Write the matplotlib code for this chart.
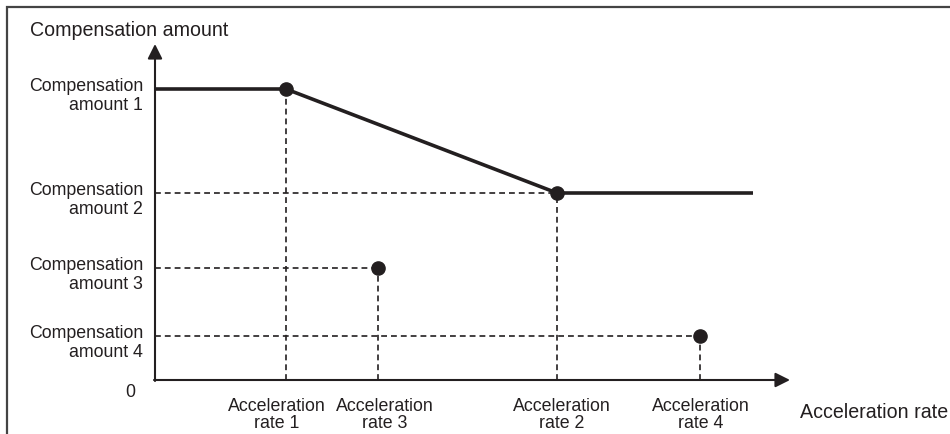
import matplotlib
matplotlib.use("Agg")
import matplotlib.pyplot as plt
from matplotlib.patches import Rectangle

plt.rcParams['font.family'] = ['Liberation Sans', 'DejaVu Sans']

# values (axis units ~ pixels from origin)
rate_labels = ['Acceleration\nrate 1', 'Acceleration\nrate 3', 'Acceleration\nrate 2', 'Acceleration\nrate 4']
rate_x = [131, 223, 402, 545]
amount_labels = ['Compensation\namount 1', 'Compensation\namount 2', 'Compensation\namount 3', 'Compensation\namount 4']
amount_y = [291, 187, 112, 44]

# characteristic curve: flat, falling, flat
curve_x = [0, 131, 402, 598]
curve_y = [291, 291, 187, 187]

# isolated points (rate 3 -> amount 3, rate 4 -> amount 4)
pts_x = [131, 402, 223, 545]
pts_y = [291, 187, 112, 44]

x_end, y_end = 635, 336
ink = '#231f20'
txt = '#231f20'

# tick labels are not exactly centred under their marks in the original
label_shift = [-9, 7, 5, 1]

fig = plt.figure(figsize=(9.5, 4.35), dpi=100)
ax = fig.add_axes([0, 0, 1, 1])
ax.set_xlim(-155, 795)
ax.set_ylim(-54, 381)
ax.axis('off')

# frame round the figure (right/bottom run off the picture)
ax.add_patch(Rectangle((-148, -80), 1200, 453, fill=False, lw=1.6,
                       edgecolor='#444444', clip_on=False))

# axes with arrow heads
ax.annotate('', xy=(x_end, 0), xytext=(-1, 0),
            arrowprops=dict(arrowstyle='-|>', lw=1.5, color=ink,
                            mutation_scale=22, shrinkA=0, shrinkB=0))
ax.annotate('', xy=(0, y_end), xytext=(0, -1),
            arrowprops=dict(arrowstyle='-|>', lw=1.5, color=ink,
                            mutation_scale=22, shrinkA=0, shrinkB=0))

# dashed guide lines
dash = dict(color=ink, lw=1.2, ls=(0, (3.5, 2.4)))
for px, py in zip(pts_x, pts_y):
    ax.plot([px, px], [0, py], **dash)
for px, py in zip(pts_x[1:], pts_y[1:]):
    ax.plot([0, px], [py, py], **dash)

ax.plot(curve_x, curve_y, color=ink, lw=2.6, solid_capstyle='butt')
ax.plot(pts_x, pts_y, 'o', color=ink, ms=9.5)

# labels
for lab, y in zip(amount_labels, amount_y):
    ax.text(-12, y - 6, lab, ha='right', va='center', fontsize=12.8,
            color=txt, linespacing=1.12)
ax.text(-25, -12, '0', ha='center', va='center', fontsize=12.8, color=txt)
for lab, x, dx in zip(rate_labels, rate_x, label_shift):
    ax.text(x + dx, -34, lab, ha='center', va='center', fontsize=12.8,
            color=txt, linespacing=1.0)
ax.text(-125, 351, 'Compensation amount', ha='left', va='center',
        fontsize=14.1, color=txt)
ax.text(645, -32, 'Acceleration rate', ha='left', va='center',
        fontsize=14.1, color=txt)

fig.savefig('out.png', dpi=100)
